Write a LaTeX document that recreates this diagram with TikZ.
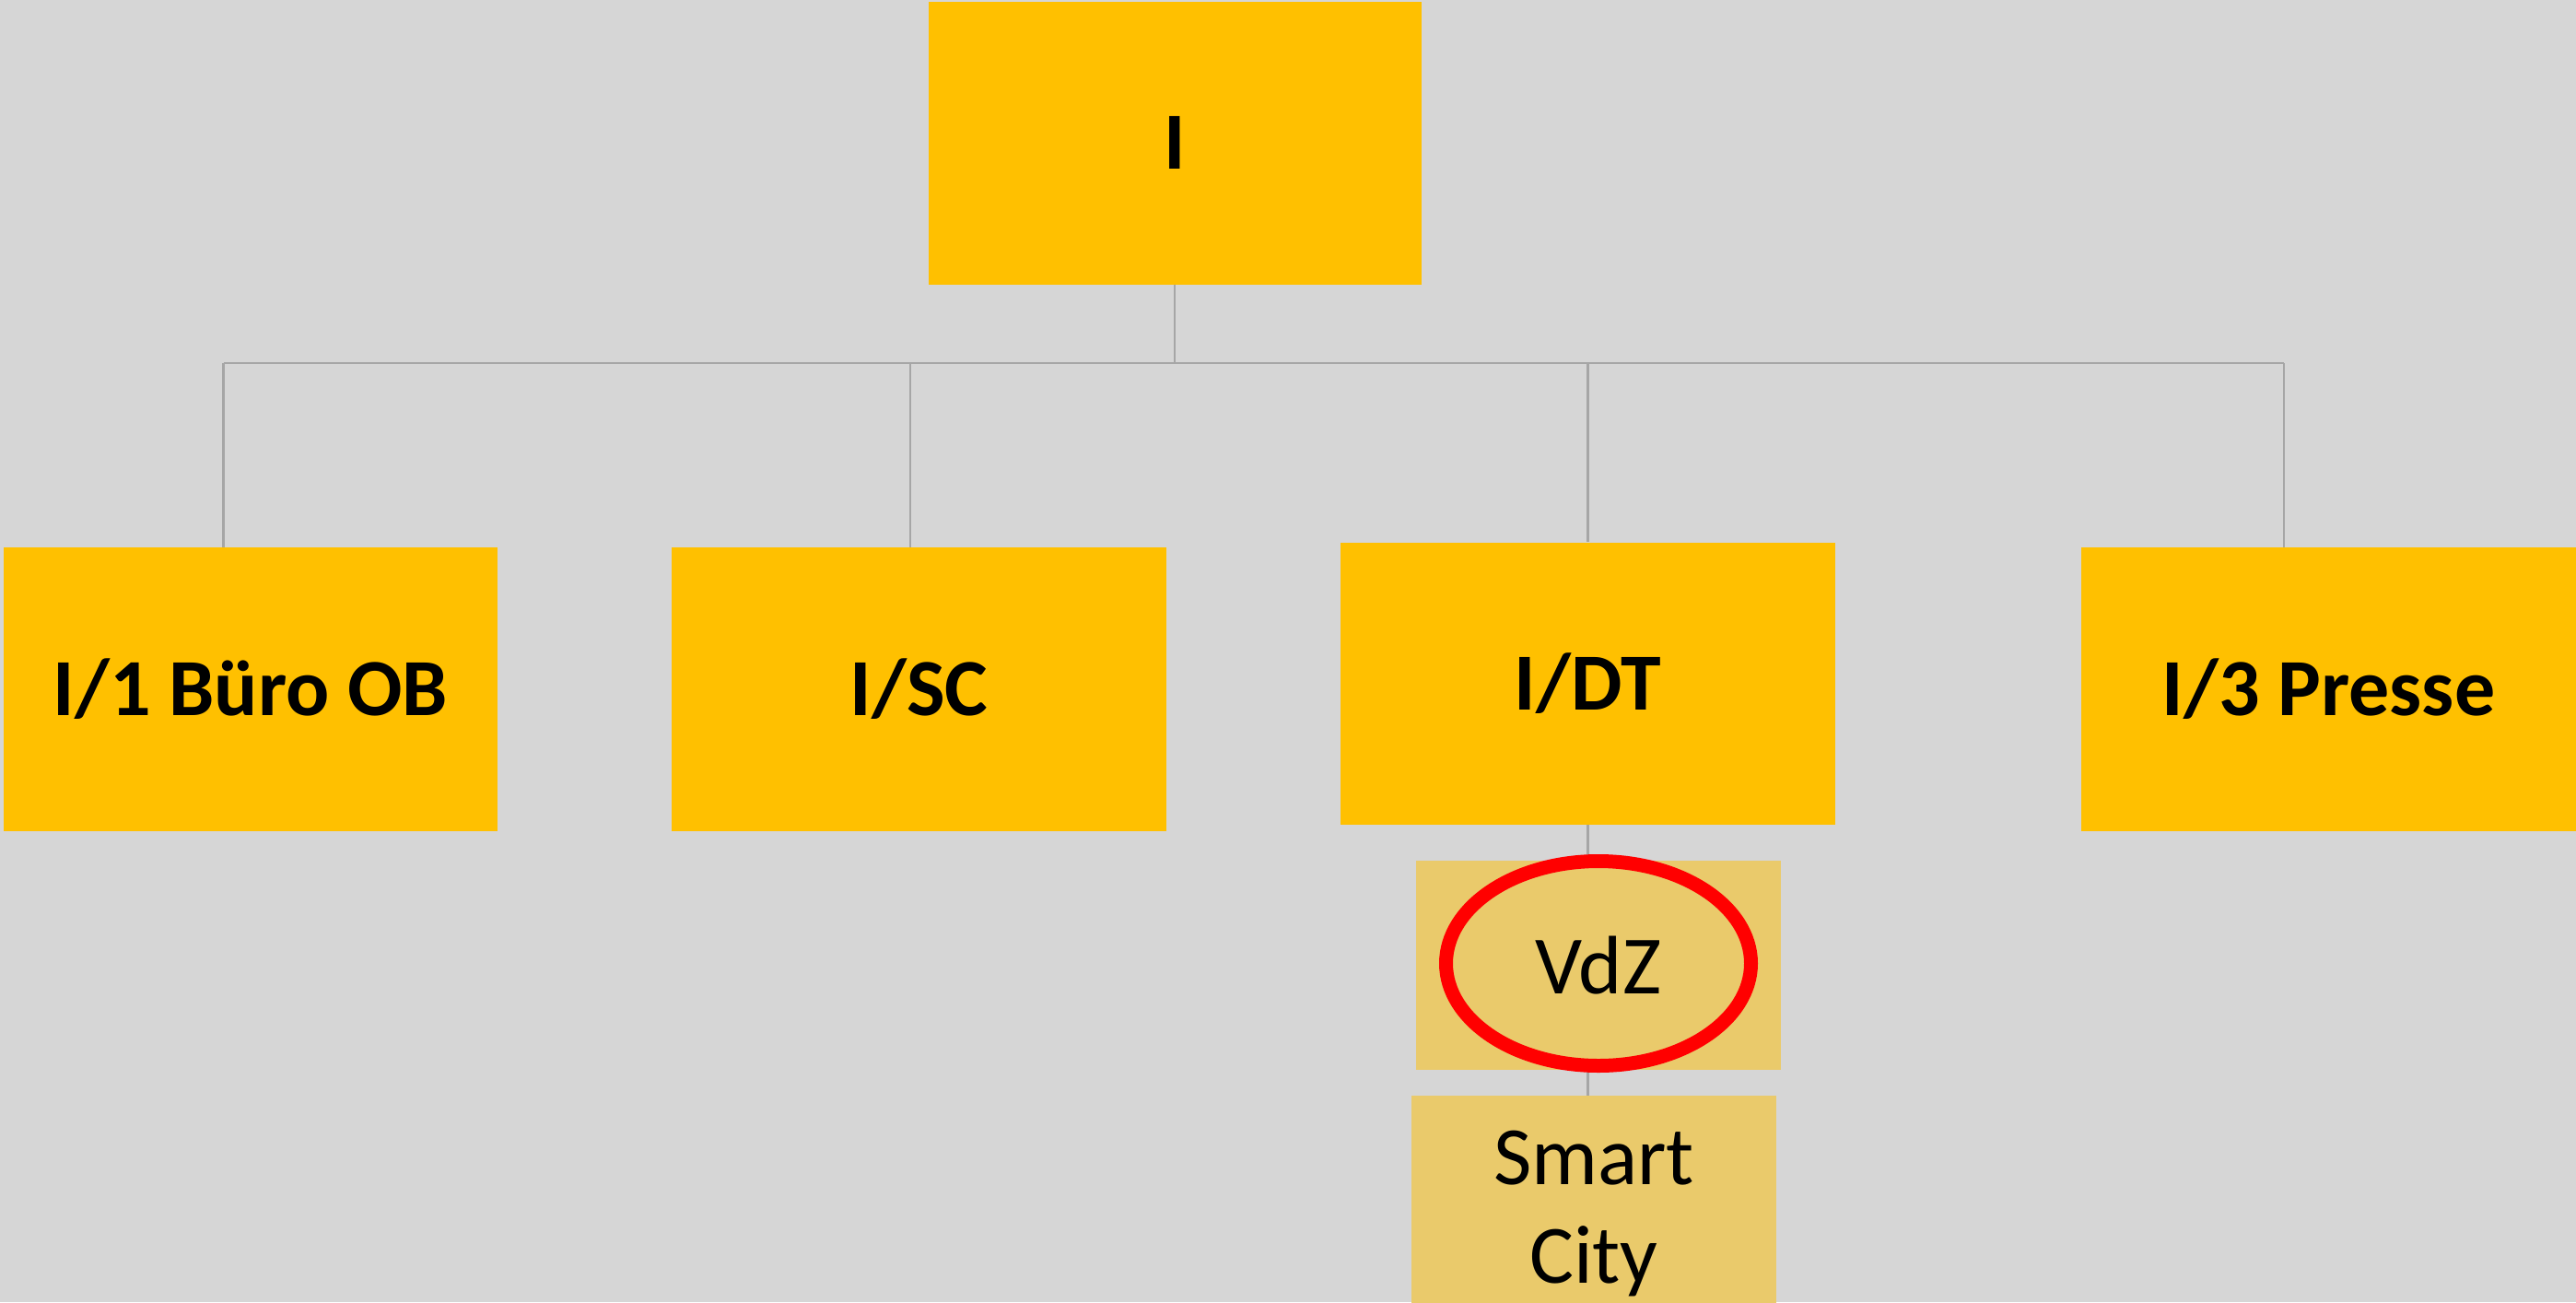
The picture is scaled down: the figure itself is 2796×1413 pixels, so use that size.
\documentclass[tikz,border=0pt]{standalone}
\usepackage{fontspec}
\setmainfont{Carlito}
\usetikzlibrary{shapes.geometric}
\definecolor{bg}{HTML}{D6D6D6}
\definecolor{gold}{HTML}{FFC000}
\definecolor{sand}{HTML}{EACA6B}
\definecolor{conn}{HTML}{A6A6A6}
\definecolor{ring}{HTML}{FF0000}
\tikzset{
  mainbox/.style={rectangle, fill=gold, draw=none, inner sep=0pt, align=center,
    font=\fontsize{88}{107}\selectfont\bfseries},
  subbox/.style={rectangle, fill=sand, draw=none, inner sep=0pt, align=center,
    font=\fontsize{90}{107}\selectfont},
  link/.style={draw=conn, line width=2.5pt},
  redring/.style={ellipse, draw=ring, line width=15pt, fill=none, inner sep=0pt,
    minimum width=331pt, minimum height=222pt}
}
\begin{document}
\begin{tikzpicture}[x=1pt,y=-1pt]
\useasboundingbox (0,0) rectangle (2796,1413);
\fill[bg] (0,0) rectangle (2796,1413);
\begin{scope}
\clip (0,0) rectangle (2796,1413);
% nodes
\node[mainbox, minimum width=535pt, minimum height=306.5pt] (top) at (1275,155.25) {I};
\node[mainbox, minimum width=536.5pt, minimum height=308pt] (buero) at (272,748) {I/1 Büro OB};
\node[mainbox, minimum width=537pt, minimum height=308pt] (sc) at (997.5,748) {I/SC};
\node[mainbox, minimum width=537pt, minimum height=306.5pt] (dt) at (1723.5,741.75) {I/DT};
\node[mainbox, minimum width=537pt, minimum height=308pt] (presse) at (2527.5,748) {I/3 Presse};
\node[subbox, minimum width=396pt, minimum height=227pt] (vdz) at (1735,1047.5) {VdZ};
\node[subbox, minimum width=396pt, minimum height=256pt] (smart) at (1730,1317) {Smart\\City};
% bus coordinates
\coordinate (busL) at (242.5,394);
\coordinate (busSC) at (988,394);
\coordinate (busR) at (2479,394);
% connectors
\draw[link] (top.south) -- (top.south |- busL);
\draw[link] (busL) -- (busR);
\draw[link] (busL) -- (busL |- buero.north);
\draw[link] (busSC) -- (busSC |- sc.north);
\draw[link] (dt.north |- busL) -- (dt.north);
\draw[link] (busR) -- (busR |- presse.north);
\draw[link] (dt.south) -- (dt.south |- vdz.north);
\draw[link] (dt.south |- vdz.south) -- (dt.south |- smart.north);
% ring
\node[redring] (vdzring) at (1735,1045.5) {};
\end{scope}
\end{tikzpicture}
\end{document}
